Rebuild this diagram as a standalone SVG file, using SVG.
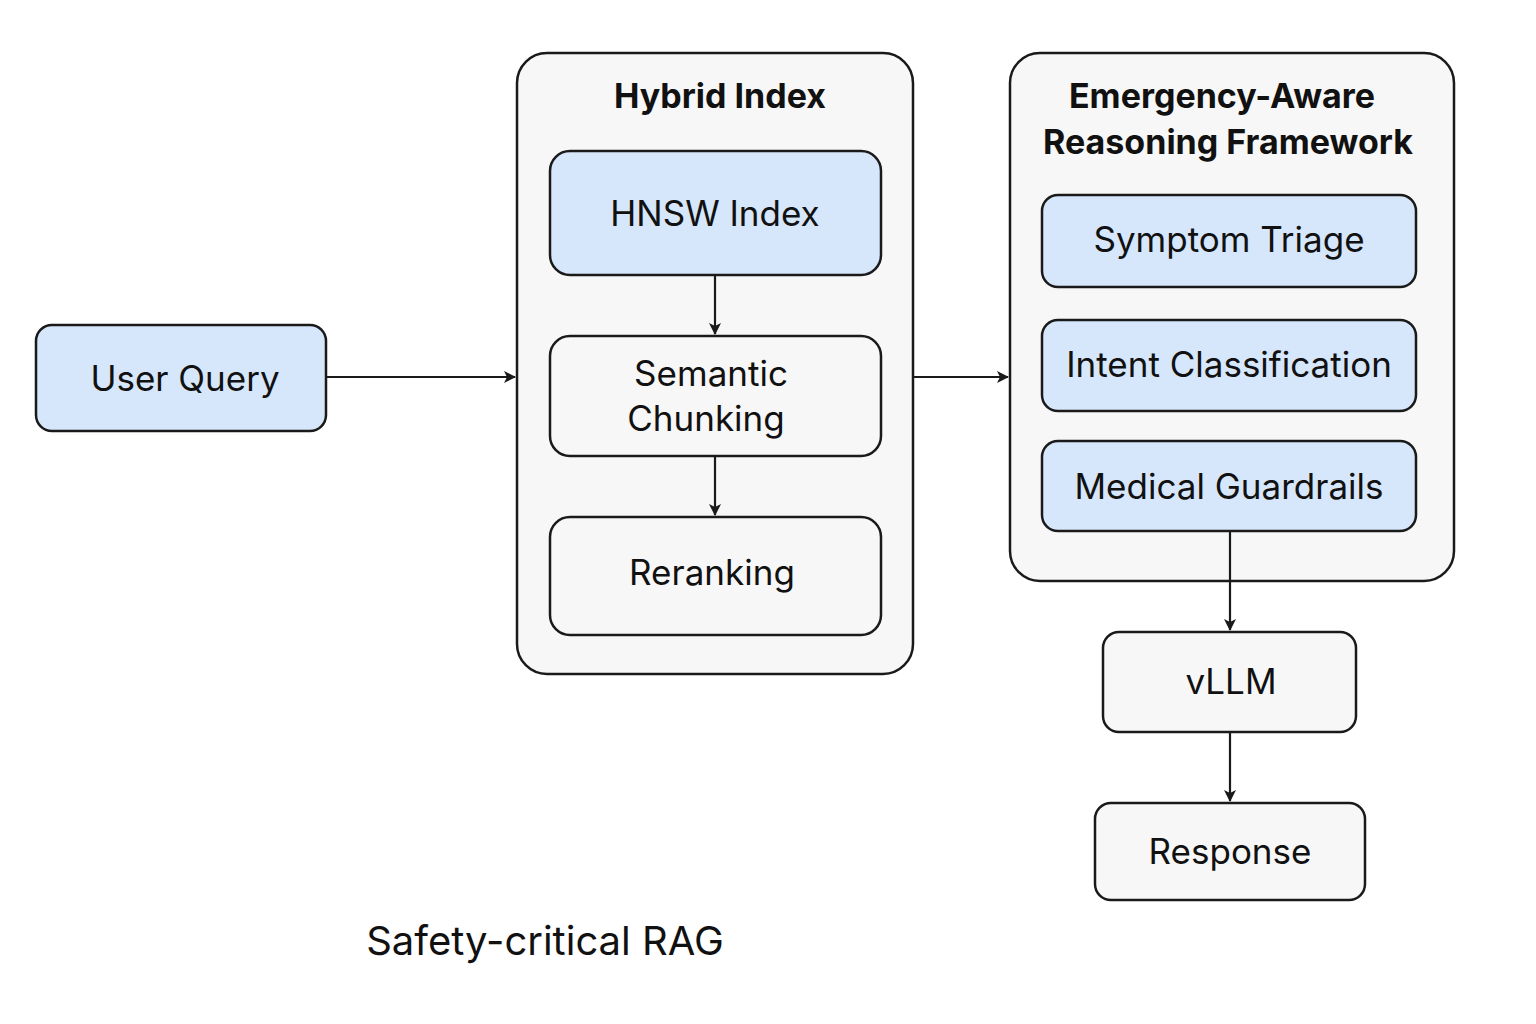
<svg xmlns="http://www.w3.org/2000/svg" width="1536" height="1024" viewBox="0 0 1536 1024">
<style>
.c{fill:#f7f7f7;stroke:#1a1a1a;stroke-width:2.5}
.b{fill:#d6e6fb;stroke:#1a1a1a;stroke-width:2.5}
.g{fill:#f7f7f7;stroke:#1a1a1a;stroke-width:2.5}
text{font-family:"Inter","Liberation Sans",sans-serif;fill:#111;text-anchor:middle}
.t{font-size:35px}
.h{font-size:34px;font-weight:bold}
.e{stroke:#1a1a1a;stroke-width:2.2;fill:none;marker-end:url(#a)}
</style>
<defs><marker id="a" markerWidth="12" markerHeight="12" refX="11" refY="6" orient="auto" markerUnits="userSpaceOnUse"><path d="M0,0 L12,6 L0,12 L3,6 Z" fill="#1a1a1a"/></marker></defs>
<rect width="1536" height="1024" fill="#fff"/>
<g id="hybrid"><rect class="c" x="517" y="53" width="396" height="621" rx="30"/><text class="h" x="720" y="108">Hybrid Index</text></g>
<g id="emergency"><rect class="c" x="1010" y="53" width="444" height="528" rx="30"/><text class="h" x="1222" y="108">Emergency-Aware</text><text class="h" x="1228" y="154">Reasoning Framework</text></g>
<g id="userquery"><rect class="b" x="36" y="325" width="290" height="106" rx="16"/><text class="t" x="185" y="391">User Query</text></g>
<g id="hnsw"><rect class="b" x="550" y="151" width="331" height="124" rx="20"/><text class="t" x="715" y="226">HNSW Index</text></g>
<g id="chunk"><rect class="g" x="550" y="336" width="331" height="120" rx="20"/><text class="t" x="711" y="386">Semantic</text><text class="t" x="706" y="431">Chunking</text></g>
<g id="rerank"><rect class="g" x="550" y="517" width="331" height="118" rx="20"/><text class="t" x="712" y="585">Reranking</text></g>
<g id="triage"><rect class="b" x="1042" y="195" width="374" height="92" rx="16"/><text class="t" x="1229" y="252">Symptom Triage</text></g>
<g id="intent"><rect class="b" x="1042" y="320" width="374" height="91" rx="16"/><text class="t" x="1229" y="377">Intent Classification</text></g>
<g id="guard"><rect class="b" x="1042" y="441" width="374" height="90" rx="16"/><text class="t" x="1229" y="499">Medical Guardrails</text></g>
<g id="vllm"><rect class="g" x="1103" y="632" width="253" height="100" rx="16"/><text class="t" x="1231" y="694">vLLM</text></g>
<g id="response"><rect class="g" x="1095" y="803" width="270" height="97" rx="16"/><text class="t" x="1230" y="864">Response</text></g>
<g id="edges">
<path class="e" d="M326,377 L515,377"/>
<path class="e" d="M913,377 L1008,377"/>
<path class="e" d="M715,275 L715,334"/>
<path class="e" d="M715,456 L715,515"/>
<path class="e" d="M1230,531 L1230,630"/>
<path class="e" d="M1230,732 L1230,801"/>
</g>
<text x="545" y="955" style="font-size:40px">Safety-critical RAG</text>
</svg>
